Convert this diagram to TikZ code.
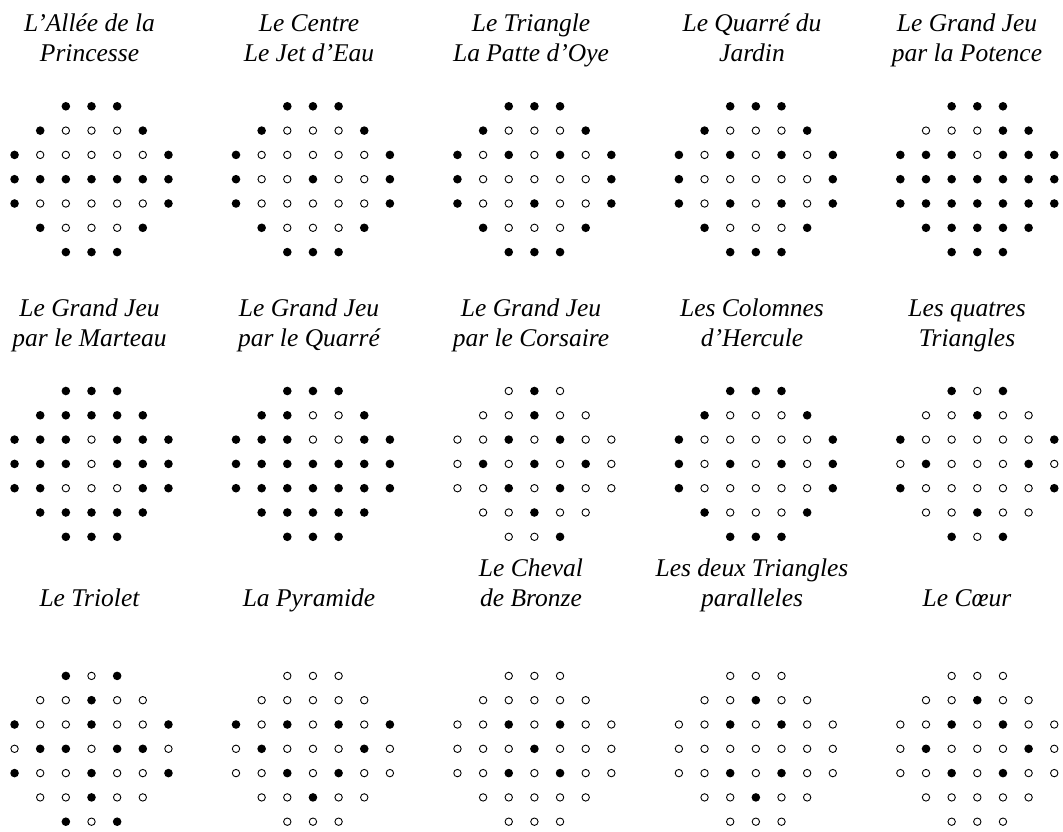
\documentclass[tikz,border=0pt]{standalone}
\usepackage{fontspec}
\setmainfont{Liberation Serif}
\tikzset{
  peg/.style={fill=black},
  hole/.style={draw=black, line width=0.9pt},
  ttl/.style={anchor=base, inner sep=0pt, font=\fontsize{25.5}{30}\selectfont\itshape}
}
\newcommand\pegrow[4]{%
  \foreach \v [count=\k from 0] in {#4} {%
    \pgfmathsetmacro\xx{#1+(#3+\k-3)*25.65}%
    \ifnum\v=1 \fill[peg] (\xx,#2) circle (4.3pt);\else\draw[hole] (\xx,#2) circle (3.7pt);\fi
  }}
\newcommand\pegboard[9]{%
  \pegrow{#1}{#2-72.9}{2}{#3}%
  \pegrow{#1}{#2-48.6}{1}{#4}%
  \pegrow{#1}{#2-24.3}{0}{#5}%
  \pegrow{#1}{#2}{0}{#6}%
  \pegrow{#1}{#2+24.3}{0}{#7}%
  \pegrow{#1}{#2+48.6}{1}{#8}%
  \pegrow{#1}{#2+72.9}{2}{#9}%
}
\begin{document}
\begin{tikzpicture}[x=1pt,y=-1pt]
\useasboundingbox (0,0) rectangle (1063,832);
% row 1
\pegboard{91.5}{179.2}{1,1,1}{1,0,0,0,1}{1,0,0,0,0,0,1}{1,1,1,1,1,1,1}{1,0,0,0,0,0,1}{1,0,0,0,1}{1,1,1}
\pegboard{312.95}{179.2}{1,1,1}{1,0,0,0,1}{1,0,0,0,0,0,1}{1,0,0,1,0,0,1}{1,0,0,0,0,0,1}{1,0,0,0,1}{1,1,1}
\pegboard{534.4}{179.2}{1,1,1}{1,0,0,0,1}{1,0,1,0,1,0,1}{1,0,0,0,0,0,1}{1,0,0,1,0,0,1}{1,0,0,0,1}{1,1,1}
\pegboard{755.85}{179.2}{1,1,1}{1,0,0,0,1}{1,0,1,0,1,0,1}{1,0,0,0,0,0,1}{1,0,1,0,1,0,1}{1,0,0,0,1}{1,1,1}
\pegboard{977.3}{179.2}{1,1,1}{0,0,0,1,1}{1,1,1,0,1,1,1}{1,1,1,1,1,1,1}{1,1,1,1,1,1,1}{1,1,1,1,1}{1,1,1}
% row 2
\pegboard{91.5}{463.9}{1,1,1}{1,1,1,1,1}{1,1,1,0,1,1,1}{1,1,1,0,1,1,1}{1,1,0,0,0,1,1}{1,1,1,1,1}{1,1,1}
\pegboard{312.95}{463.9}{1,1,1}{1,1,0,0,1}{1,1,1,0,0,1,1}{1,1,1,1,1,1,1}{1,1,1,1,1,1,1}{1,1,1,1,1}{1,1,1}
\pegboard{534.4}{463.9}{0,1,0}{0,0,1,0,0}{0,0,1,0,1,0,0}{0,1,0,1,0,1,0}{0,0,1,0,1,0,0}{0,0,1,0,0}{0,0,1}
\pegboard{755.85}{463.9}{1,1,1}{1,0,0,0,1}{1,0,0,0,0,0,1}{1,0,1,0,1,0,1}{1,0,0,0,0,0,1}{1,0,0,0,1}{1,1,1}
\pegboard{977.3}{463.9}{1,0,1}{0,0,1,0,0}{1,0,0,0,0,0,1}{0,1,0,0,0,1,0}{1,0,0,0,0,0,1}{0,0,1,0,0}{1,0,1}
% row 3
\pegboard{91.5}{748.8}{1,0,1}{0,0,1,0,0}{1,0,0,1,0,0,1}{0,1,1,0,1,1,0}{1,0,0,1,0,0,1}{0,0,1,0,0}{1,0,1}
\pegboard{312.95}{748.8}{0,0,0}{0,0,0,0,0}{1,0,1,0,1,0,1}{0,1,0,0,0,1,0}{0,0,1,0,1,0,0}{0,0,1,0,0}{0,0,0}
\pegboard{534.4}{748.8}{0,0,0}{0,0,0,0,0}{0,0,1,0,1,0,0}{0,0,0,1,0,0,0}{0,0,1,0,1,0,0}{0,0,0,0,0}{0,0,0}
\pegboard{755.85}{748.8}{0,0,0}{0,0,1,0,0}{0,0,1,0,1,0,0}{0,0,0,0,0,0,0}{0,0,1,0,1,0,0}{0,0,1,0,0}{0,0,0}
\pegboard{977.3}{748.8}{0,0,0}{0,0,1,0,0}{0,0,1,0,1,0,0}{0,1,0,0,0,1,0}{0,0,1,0,1,0,0}{0,0,0,0,0}{0,0,0}
% titles row 1
\node[ttl] (t1a) at (89.5,31.7) {L’Allée de la};
\node[ttl] (t1b) at (89.5,61.3) {Princesse};
\node[ttl] (t2a) at (309,31.7) {Le Centre};
\node[ttl] (t2b) at (309,61.3) {Le Jet d’Eau};
\node[ttl] (t3a) at (531,31.7) {Le Triangle};
\node[ttl] (t3b) at (531,61.3) {La Patte d’Oye};
\node[ttl] (t4a) at (752,31.7) {Le Quarré du};
\node[ttl] (t4b) at (752,61.3) {Jardin};
\node[ttl] (t5a) at (967,31.7) {Le Grand Jeu};
\node[ttl] (t5b) at (967,61.3) {par la Potence};
% titles row 2
\node[ttl] (t6a) at (89.5,316.5) {Le Grand Jeu};
\node[ttl] (t6b) at (89.5,346) {par le Marteau};
\node[ttl] (t7a) at (309,316.5) {Le Grand Jeu};
\node[ttl] (t7b) at (309,346) {par le Quarré};
\node[ttl] (t8a) at (531,316.5) {Le Grand Jeu};
\node[ttl] (t8b) at (531,346) {par le Corsaire};
\node[ttl] (t9a) at (752,316.5) {Les Colomnes};
\node[ttl] (t9b) at (752,346) {d’Hercule};
\node[ttl] (t10a) at (967,316.5) {Les quatres};
\node[ttl] (t10b) at (967,346) {Triangles};
% titles row 3
\node[ttl] (t11) at (89.5,606) {Le Triolet};
\node[ttl] (t12) at (309,606) {La Pyramide};
\node[ttl] (t13a) at (531,576) {Le Cheval};
\node[ttl] (t13b) at (531,606) {de Bronze};
\node[ttl] (t14a) at (752,576) {Les deux Triangles};
\node[ttl] (t14b) at (752,606) {paralleles};
\node[ttl] (t15) at (967,606) {Le Cœur};
\end{tikzpicture}
\end{document}
